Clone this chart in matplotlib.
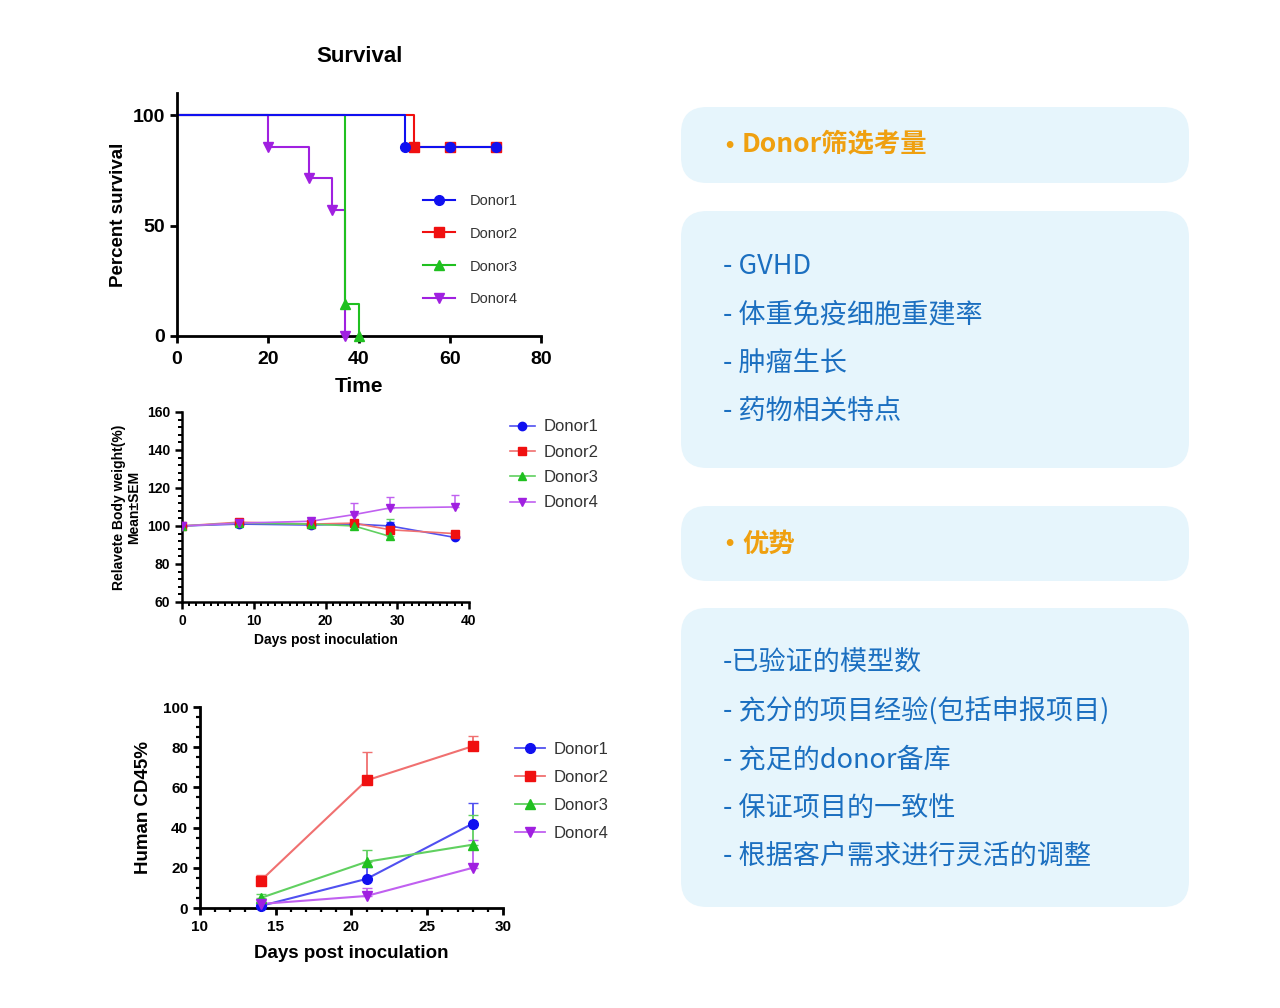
import numpy as np
import matplotlib
matplotlib.use("Agg")
import matplotlib.pyplot as plt
from matplotlib.lines import Line2D
from matplotlib.patches import FancyBboxPatch
from matplotlib.ticker import MultipleLocator

# ---- data ----
donors = ["Donor1", "Donor2", "Donor3", "Donor4"]
colors = ["#1010f0", "#f01010", "#20c020", "#a020e0"]
line_colors = ["#5050f0", "#f07070", "#60d060", "#c060f0"]
markers = ["o", "s", "^", "v"]

# survival (Kaplan-Meier steps)
surv_t = [[0, 50, 70], [0, 52, 70], [0, 37, 40], [0, 20, 29, 34, 37]]
surv_s = [[100, 85.7, 85.7], [100, 85.7, 85.7], [100, 14.3, 0], [100, 85.7, 71.4, 57.1, 0]]
surv_mark_t = [[50, 60, 70], [52, 60, 70], [37, 40], [20, 29, 34, 37]]
surv_mark_s = [[85.7, 85.7, 85.7], [85.7, 85.7, 85.7], [14.3, 0], [85.7, 71.4, 57.1, 0]]

# relative body weight
bw_days = [0, 8, 18, 24, 29, 38]
bw_mean = [
    [100, 101, 100.5, 101, 100, 94],
    [100, 102, 101, 101.5, 98, 96],
    [100, 101.5, 101, 100, 94.5],
    [100, 101.5, 102.5, 106, 109.5, 110],
]
bw_sem = [
    [0.5, 0.8, 0.8, 1.5, 2, 1.5],
    [0.5, 1, 0.8, 1.5, 2, 1.5],
    [0.5, 1, 0.8, 1, 9],
    [0.5, 1, 1, 6, 6, 6.5],
]

# human CD45 %
cd_days = [14, 21, 28]
cd_mean = [
    [1, 14.5, 42],
    [13.5, 63.5, 80.5],
    [5, 23, 31.5],
    [2, 6, 20],
]
cd_sem = [
    [1, 6, 10],
    [3, 14, 5],
    [2, 6, 15],
    [1, 4, 14],
]

header1 = "Donor筛选考量"
items1 = ["- GVHD", "- 体重免疫细胞重建率", "- 肿瘤生长", "- 药物相关特点"]
header2 = "优势"
items2 = ["-已验证的模型数", "- 充分的项目经验(包括申报项目)", "- 充足的donor备库",
          "- 保证项目的一致性", "- 根据客户需求进行灵活的调整"]

plt.rcParams['font.family'] = ['Liberation Sans', 'DejaVu Sans']
cjk = ['Noto Sans CJK SC', 'DejaVu Sans']

fig = plt.figure(figsize=(12.8, 10.08), dpi=100)

# ---- right-hand text panel (pixel coords) ----
bg = fig.add_axes([0, 0, 1, 1])
bg.set_xlim(0, 1280)
bg.set_ylim(1008, 0)
bg.axis('off')
box_fill = "#e6f5fc"
for (y0, y1) in [(107, 183), (211, 468), (506, 581), (608, 907)]:
    bg.add_patch(FancyBboxPatch((681, y0), 508, y1 - y0,
                                boxstyle="round,pad=0,rounding_size=26",
                                fc=box_fill, ec="none"))
orange = "#efa010"
blue_txt = "#1b6fc0"
for y, h in [(145, header1), (544, header2)]:
    bg.text(729, y, "•", color=orange, fontsize=17, fontweight='bold', va='center', ha='center')
    bg.text(742, y, h, color=orange, fontsize=19, fontweight='bold', family=cjk, va='center')
for i, t in enumerate(items1):
    bg.text(723, 266 + i * 48.5, t, color=blue_txt, fontsize=19.5, family=cjk, va='center')
for i, t in enumerate(items2):
    bg.text(723, 663 + i * 48.3, t, color=blue_txt, fontsize=19.5, family=cjk, va='center')


def style_axis(ax, lw, fs):
    for s in ["top", "right"]:
        ax.spines[s].set_visible(False)
    for s in ["left", "bottom"]:
        ax.spines[s].set_linewidth(lw)
    ax.tick_params(which='major', direction='out', length=5, width=lw, labelsize=fs)
    ax.tick_params(which='minor', direction='out', length=3, width=lw * 0.8)
    for lab in ax.get_xticklabels() + ax.get_yticklabels():
        lab.set_fontweight('bold')


# ---- survival ----
ax1 = fig.add_axes([0.1383, 0.6667, 0.2844, 0.241])
for i in [3, 2, 1, 0]:
    ax1.step(surv_t[i], surv_s[i], where='post', color=colors[i], lw=1.5, clip_on=False,
             zorder=2 + (3 - i) * 0.1)
    ax1.plot(surv_mark_t[i], surv_mark_s[i], ls='none', marker=markers[i], ms=7,
             color=colors[i], clip_on=False, zorder=4)
ax1.set_xlim(0, 80)
ax1.set_ylim(0, 110)
ax1.set_xticks([0, 20, 40, 60, 80])
ax1.set_yticks([0, 50, 100])
style_axis(ax1, 2, 14)
ax1.tick_params(axis='x', pad=6)
ax1.set_title("Survival", fontsize=16, fontweight='bold', pad=22)
ax1.set_xlabel("Time", fontsize=15, fontweight='bold', labelpad=6)
ax1.set_ylabel("Percent survival", fontsize=13.5, fontweight='bold', labelpad=4)
h1 = [Line2D([], [], color=colors[i], marker=markers[i], ms=7, lw=1.5) for i in range(4)]
leg = ax1.legend(h1, donors, loc='upper left', bbox_to_anchor=(0.64, 0.64), frameon=False,
                 fontsize=10.5, handlelength=2.2, labelspacing=1.3, handletextpad=1.0)
for t in leg.get_texts():
    t.set_color("#333333")

# ---- body weight ----
ax2 = fig.add_axes([0.1422, 0.4028, 0.2242, 0.1885])
for i in range(4):
    n = len(bw_mean[i])
    ax2.plot(bw_days[:n], bw_mean[i], color=line_colors[i], lw=1.2)
    ax2.errorbar(bw_days[:n], bw_mean[i], yerr=[np.zeros(n), bw_sem[i]], fmt=markers[i],
                 ms=6, color=colors[i], ecolor=line_colors[i], elinewidth=1.1, capsize=3,
                 zorder=3)
ax2.set_xlim(0, 40)
ax2.set_ylim(60, 160)
ax2.set_xticks([0, 10, 20, 30, 40])
ax2.set_yticks([60, 80, 100, 120, 140, 160])
ax2.xaxis.set_minor_locator(MultipleLocator(1))
ax2.yaxis.set_minor_locator(MultipleLocator(4))
style_axis(ax2, 1.8, 10)
ax2.set_xlabel("Days post inoculation", fontsize=10, fontweight='bold')
ax2.set_ylabel("Relavete Body weight(%)\nMean±SEM", fontsize=10, fontweight='bold',
               linespacing=1.15, labelpad=4)
h2 = [Line2D([], [], color=line_colors[i], marker=markers[i], ms=6, mfc=colors[i],
             mec=colors[i], lw=1.2) for i in range(4)]
leg = ax2.legend(h2, donors, loc='upper left', bbox_to_anchor=(1.09, 1.04), frameon=False,
                 fontsize=12, handlelength=1.5, labelspacing=0.62, handletextpad=0.5)
for t in leg.get_texts():
    t.set_color("#333333")

# ---- human CD45 ----
ax3 = fig.add_axes([0.15625, 0.0992, 0.2367, 0.1994])
for i in range(4):
    n = len(cd_mean[i])
    ax3.plot(cd_days, cd_mean[i], color=line_colors[i], lw=1.5)
    ax3.errorbar(cd_days, cd_mean[i], yerr=[np.zeros(n), cd_sem[i]], fmt=markers[i],
                 ms=7, color=colors[i], ecolor=line_colors[i], elinewidth=1.3, capsize=3.5,
                 zorder=3, clip_on=False)
ax3.set_xlim(10, 30)
ax3.set_ylim(0, 100)
ax3.set_xticks([10, 15, 20, 25, 30])
ax3.set_yticks([0, 20, 40, 60, 80, 100])
ax3.xaxis.set_minor_locator(MultipleLocator(1))
ax3.yaxis.set_minor_locator(MultipleLocator(5))
style_axis(ax3, 2, 11)
ax3.set_xlabel("Days post inoculation", fontsize=13.5, fontweight='bold', labelpad=8)
ax3.set_ylabel("Human CD45%", fontsize=13.5, fontweight='bold', labelpad=8)
h3 = [Line2D([], [], color=line_colors[i], marker=markers[i], ms=7, mfc=colors[i],
             mec=colors[i], lw=1.3) for i in range(4)]
leg = ax3.legend(h3, donors, loc='upper left', bbox_to_anchor=(0.99, 0.9), frameon=False,
                 fontsize=12, handlelength=1.8, labelspacing=0.78, handletextpad=0.5)
for t in leg.get_texts():
    t.set_color("#333333")

fig.savefig("out.png", dpi=100)
